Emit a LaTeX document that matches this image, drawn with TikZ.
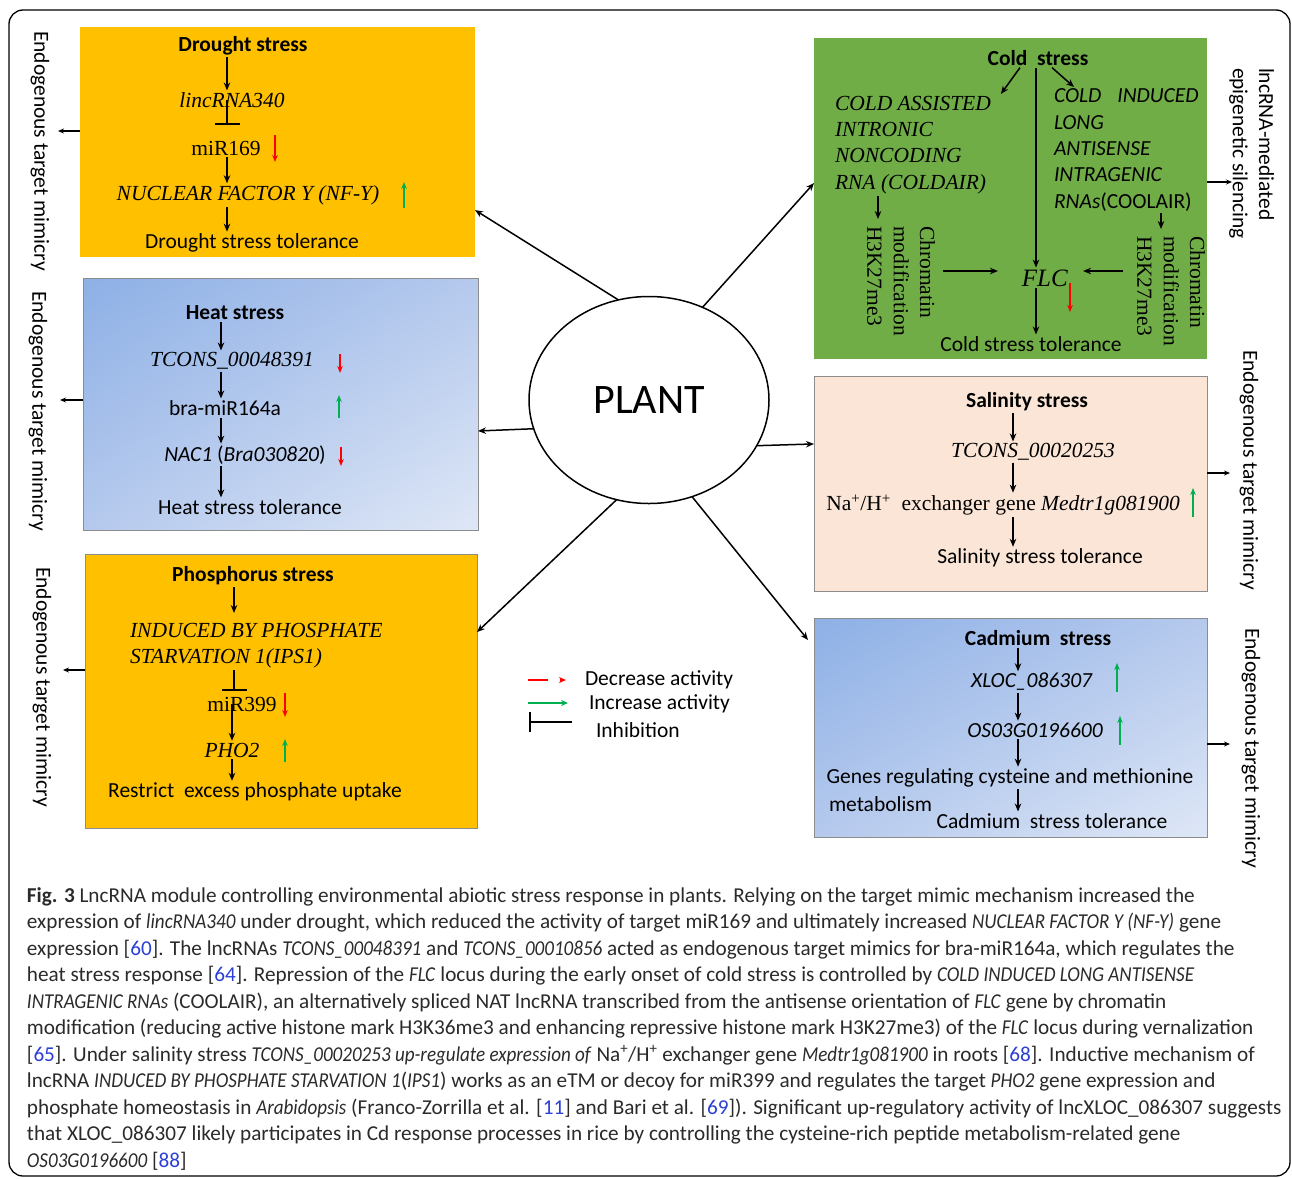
\documentclass[tikz,border=0pt]{standalone}
\usepackage{fontspec}
\setmainfont{Liberation Serif}
\setsansfont{Carlito}
\newfontfamily\capfont{Carlito}[ItalicFeatures={FakeStretch=0.9}]
\usetikzlibrary{calc,shapes.geometric,arrows.meta,shadings}

\definecolor{droughtyellow}{HTML}{FFC000}
\definecolor{coldgreen}{HTML}{70AD47}
\definecolor{saltpeach}{HTML}{FBE5D6}
\definecolor{blueA}{HTML}{8DB0E6}
\definecolor{blueM}{HTML}{B5C9ED}
\definecolor{blueB}{HTML}{DEE7F6}
\definecolor{upgreen}{HTML}{00B050}
\definecolor{citeblue}{HTML}{2C3FD4}
\definecolor{boxline}{HTML}{8C8C8C}
\definecolor{captxtcol}{HTML}{2A2A2A}

\newcommand{\bx}{\fontsize{21.5}{26.3}\selectfont}
\newcommand{\capsz}{\fontsize{21.2}{26.5}\selectfont}
\newcommand{\refno}[1]{\textcolor{citeblue}{#1}}
\newcommand{\dnarr}[3]{\draw[chg,red] (#1,#2) -- (#1,#3);}
\newcommand{\uparr}[3]{\draw[chg,upgreen] (#1,#2) -- (#1,#3);}

\begin{document}
\begin{tikzpicture}[x=1pt,y=-1pt,
    every node/.style={inner sep=2pt,outer sep=0pt},
    txt/.style={font=\sffamily\bx},
    hd/.style={font=\sffamily\bfseries\bx},
    ser/.style={font=\rmfamily\bx},
    arr/.style={-{Stealth[length=8pt,width=6.5pt]},line width=1.5pt},
    sarr/.style={-{Stealth[length=6pt,width=5pt]},line width=1.3pt},
    inh/.style={-{Bar[width=25pt]},line width=1.5pt},
    chg/.style={-{Stealth[length=7pt,width=5.5pt]},line width=2pt},
    side/.style={font=\sffamily\bx,rotate=-90},
    captxt/.style={font=\capfont\capsz,text=captxtcol,anchor=base west}]
  \useasboundingbox (0,0) rectangle (1292,1178);
  \draw[line width=1.3pt,rounded corners=14pt] (9,10) rectangle (1290,1176);

  % stress boxes
  \node[fill=droughtyellow,minimum width=395pt,minimum height=230pt,anchor=north west] (drt) at (80,27) {};
  \node[draw=boxline,shade,upper left=blueA,upper right=blueM,lower left=blueM,lower right=blueB,
        minimum width=395pt,minimum height=252pt,anchor=north west] (heat) at (83,278) {};
  \node[draw=boxline,fill=droughtyellow,minimum width=392pt,minimum height=274pt,anchor=north west] (phos) at (85,554) {};
  \node[fill=coldgreen,minimum width=393pt,minimum height=321pt,anchor=north west] (cold) at (814,38) {};
  \node[draw=boxline,fill=saltpeach,minimum width=393pt,minimum height=215pt,anchor=north west] (salt) at (814,376) {};
  \node[draw=boxline,shade,upper left=blueA,upper right=blueM,lower left=blueM,lower right=blueB,
        minimum width=393pt,minimum height=219pt,anchor=north west] (cad) at (814,618) {};

  % plant
  \node[draw,ellipse,line width=1.5pt,minimum width=240pt,minimum height=207pt,
        font=\sffamily\fontsize{42}{48}\selectfont] (plant) at (649,400) {PLANT};
  \draw[arr] (plant.107.6) -- ($(drt.south east)!0.204!(drt.north east)$);
  \draw[arr] (plant.194.5) -- ($(heat.south east)!0.393!(heat.north east)$);
  \draw[arr] (plant.252.3) -- ($(phos.south east)!0.715!(phos.north east)$);
  \draw[arr] (plant.60.8) -- ($(cold.south west)!0.548!(cold.north west)$);
  \draw[arr] (plant.337.8) -- ($(salt.south west)!0.684!(salt.north west)$);
  \draw[arr] (plant.294.2) -- ($(cad.north west)+(-6,22)$);

  % side labels
  \node[side] (mim1) at (40,151) {Endogenous target mimicry};
  \node[side] (mim2) at (38,411) {Endogenous target mimicry};
  \node[side] (mim3) at (42,687) {Endogenous target mimicry};
  \node[side] (mim4) at (1249,470) {Endogenous target mimicry};
  \node[side] (mim5) at (1251,748) {Endogenous target mimicry};
  \node[side,align=left,anchor=north west] (epi) at (1276,66) {lncRNA-mediated\\epigenetic silencing};
  \coordinate (t1) at (58,131);
  \coordinate (t2) at (60,400);
  \coordinate (t3) at (63,670);
  \coordinate (t4) at (1232,182);
  \coordinate (t5) at (1230,473);
  \coordinate (t6) at (1230,744);
  \draw[sarr] (drt.west |- t1) -- (t1);
  \draw[sarr] (heat.west |- t2) -- (t2);
  \draw[sarr] (phos.west |- t3) -- (t3);
  \draw[sarr] (cold.east |- t4) -- (t4);
  \draw[sarr] (salt.east |- t5) -- (t5);
  \draw[sarr] (cad.east |- t6) -- (t6);

  % drought
  \coordinate (dx) at (227,0);
  \node[hd] (d0) at (243,46) {Drought stress};
  \node[ser] (d1) at (232,100) {\textit{lincRNA340}};
  \node[ser] (d2) at (226,148) {miR169};
  \node[ser] (d3) at (248,195) {\textit{NUCLEAR FACTOR Y (NF-Y)}};
  \node[txt] (d4) at (252,243) {Drought stress tolerance};
  \draw[arr] (d0.south -| dx) -- (d1.north -| dx);
  \draw[inh,shorten >=14pt] (d1.center -| dx) -- (d2.north -| dx);
  \draw[arr] (d2.south -| dx) -- (d3.north -| dx);
  \draw[arr] (d3.south -| dx) -- (d4.north -| dx);
  \dnarr{275}{135}{162}
  \uparr{404}{208}{182}

  % heat
  \coordinate (hx) at (221,0);
  \node[hd] (h0) at (235,313) {Heat stress};
  \node[ser] (h1) at (232,361) {\textit{TCONS\_00048391}};
  \node[txt] (h2) at (225,408) {bra-miR164a};
  \node[txt] (h3) at (245,455) {\textit{NAC1} (\textit{Bra030820})};
  \node[txt] (h4) at (250,507) {Heat stress tolerance};
  \draw[arr] (h0.south -| hx) -- (h1.north -| hx);
  \draw[arr] (h1.south -| hx) -- (h2.north -| hx);
  \draw[arr] (h2.south -| hx) -- (h3.north -| hx);
  \draw[arr] (h3.south -| hx) -- (h4.north -| hx);
  \dnarr{340}{354}{373}
  \uparr{339}{418}{395}
  \dnarr{341}{447}{466}

  % phosphorus
  \coordinate (px) at (234,0);
  \coordinate (px2) at (232,0);
  \node[hd] (p0) at (253,576) {Phosphorus stress};
  \node[ser,align=left,anchor=north west] (p1) at (128,621) {\textit{INDUCED BY PHOSPHATE}\\\textit{STARVATION 1(IPS1)}};
  \node[ser] (p2) at (242,704) {miR399};
  \node[ser] (p3) at (232,750) {\textit{PHO2}};
  \node[txt] (p4) at (255,792) {Restrict\ \ excess phosphate uptake};
  \draw[arr,shorten >=8pt] (p0.south -| px) -- (p1.north -| px);
  \draw[inh,shorten >=4pt] (p1.south -| px) -- (p2.north -| px);
  \draw[arr] (p2.center -| px2) -- (p3.north -| px2);
  \draw[arr] (p3.south -| px2) -- (p4.north -| px2);
  \dnarr{285}{693}{717}
  \uparr{285}{762}{739}

  % cold
  \coordinate (cx) at (1036,0);
  \coordinate (cy) at (0,271);
  \coordinate (lx) at (878,0);
  \coordinate (rx) at (1161,0);
  \node[hd] (c0) at (1038,58) {Cold\ \ stress};
  \node[ser,align=left,anchor=north west] (cla) at (833,94)
    {\textit{COLD ASSISTED}\\\textit{INTRONIC}\\\textit{NONCODING}\\\textit{RNA (COLDAIR)}};
  \node[txt,align=left,anchor=north west] (clb) at (1052,87)
    {\textit{COLD\hspace{16pt}INDUCED}\\\textit{LONG}\\\textit{ANTISENSE}\\\textit{INTRAGENIC}\\\textit{RNAs}(COOLAIR)};
  \node[ser,rotate=-90,align=left,anchor=north west] (chl) at (937,224) {Chromatin\\modification\\H3K27me3};
  \node[ser,rotate=-90,align=left,anchor=north west] (chr) at (1207,234) {Chromatin\\modification\\H3K27me3};
  \node[font=\rmfamily\fontsize{25}{30}\selectfont] (flc) at (1045,278) {\textit{FLC}};
  \node[txt] (ctol) at (1031,344) {Cold stress tolerance};
  \draw[arr] ([xshift=-18pt]c0.south) -- ([xshift=8pt]cla.north east);
  \draw[arr] ([xshift=14pt]c0.south) -- ([xshift=22pt]clb.north west);
  \draw[arr] (c0.south -| cx) -- (flc.north -| cx);
  \draw[arr,shorten >=5pt] (cla.south -| lx) -- (chl.west -| lx);
  \draw[arr,shorten >=5pt] (clb.south -| rx) -- (chr.west -| rx);
  \draw[arr,shorten <=6pt,shorten >=22pt] (chl.north |- cy) -- (flc.west |- cy);
  \draw[arr,shorten <=12pt,shorten >=13pt] (chr.south |- cy) -- (flc.east |- cy);
  \draw[arr] (flc.south -| cx) -- (ctol.north -| cx);
  \dnarr{1070}{283}{312}

  % salinity
  \coordinate (sx) at (1013,0);
  \node[hd] (s0) at (1027,402) {Salinity stress};
  \node[ser] (s1) at (1033,452) {\textit{TCONS\_00020253}};
  \node[ser] (s2) at (1003,505) {Na\textsuperscript{+}/H\textsuperscript{+}\ \ exchanger gene \textit{Medtr1g081900}};
  \node[txt] (s3) at (1040,558) {Salinity stress tolerance};
  \draw[arr] (s0.south -| sx) -- (s1.north -| sx);
  \draw[arr] (s1.south -| sx) -- (s2.north -| sx);
  \draw[arr] (s2.south -| sx) -- (s3.north -| sx);
  \uparr{1193}{517}{488}

  % cadmium
  \coordinate (mx) at (1018,0);
  \node[hd] (m0) at (1038,638) {Cadmium\ \ stress};
  \node[txt] (m1) at (1032,682) {\textit{XLOC\_086307}};
  \node[txt] (m2) at (1035,730) {\textit{OS03G0196600}};
  \node[txt] (m3) at (1010,778) {Genes regulating cysteine and methionine};
  \node[txt,anchor=west] (m4) at (827,804) {metabolism};
  \node[txt] (m5) at (1052,821) {Cadmium\ \ stress tolerance};
  \draw[arr] (m0.south -| mx) -- (m1.north -| mx);
  \draw[arr] (m1.south -| mx) -- (m2.north -| mx);
  \draw[arr] (m2.south -| mx) -- (m3.north -| mx);
  \draw[arr] (m3.south -| mx) -- (m5.north -| mx);
  \uparr{1117}{692}{663}
  \uparr{1120}{745}{716}

  % legend
  \node[txt,anchor=west] (leg1) at (583,680) {Decrease activity};
  \node[txt,anchor=west] (leg2) at (587,704) {Increase activity};
  \node[txt,anchor=west] (leg3) at (594,730) {Inhibition};
  \draw[red,line width=2pt,-{Stealth[length=7pt,width=6pt]},dash pattern=on 20pt off 12pt]
    ($(leg1.west)+(-55,0)$) -- ($(leg1.west)+(-17,0)$);
  \draw[upgreen,line width=2pt,-{Stealth[length=7pt,width=6pt]}]
    ($(leg2.west)+(-59,-1)$) -- ($(leg2.west)+(-19,-1)$);
  \draw[line width=1.8pt,{Bar[width=20pt]}-] ($(leg3.west)+(-65,-8)$) -- ($(leg3.west)+(-22,-8)$);

  % caption
  \node[captxt] (cap1) at (25,902) {\textbf{Fig. 3} LncRNA module controlling environmental abiotic stress response in plants. Relying on the target mimic mechanism increased the};
  \node[captxt] (cap2) at (25,928.5) {expression of \textit{lincRNA340} under drought, which reduced the activity of target miR169 and ultimately increased \textit{NUCLEAR FACTOR Y (NF-Y)} gene};
  \node[captxt] (cap3) at (25,955) {expression [\refno{60}]. The lncRNAs \textit{TCONS\_00048391} and \textit{TCONS\_00010856} acted as endogenous target mimics for bra-miR164a, which regulates the};
  \node[captxt] (cap4) at (25,981.5) {heat stress response [\refno{64}]. Repression of the \textit{FLC} locus during the early onset of cold stress is controlled by \textit{COLD INDUCED LONG ANTISENSE}};
  \node[captxt] (cap5) at (25,1008) {\textit{INTRAGENIC RNAs} (COOLAIR), an alternatively spliced NAT lncRNA transcribed from the antisense orientation of \textit{FLC} gene by chromatin};
  \node[captxt] (cap6) at (25,1034.5) {modification (reducing active histone mark H3K36me3 and enhancing repressive histone mark H3K27me3) of the \textit{FLC} locus during vernalization};
  \node[captxt] (cap7) at (25,1061) {[\refno{65}]. Under salinity stress \textit{TCONS\_00020253 up-regulate expression of} Na\textsuperscript{+}/H\textsuperscript{+} exchanger gene \textit{Medtr1g081900} in roots [\refno{68}]. Inductive mechanism of};
  \node[captxt] (cap8) at (25,1087.5) {lncRNA \textit{INDUCED BY PHOSPHATE STARVATION 1}(\textit{IPS1}) works as an eTM or decoy for miR399 and regulates the target \textit{PHO2} gene expression and};
  \node[captxt] (cap9) at (25,1114) {phosphate homeostasis in \textit{Arabidopsis} (Franco-Zorrilla et al. [\refno{11}] and Bari et al. [\refno{69}]). Significant up-regulatory activity of lncXLOC\_086307 suggests};
  \node[captxt] (cap10) at (25,1140.5) {that XLOC\_086307 likely participates in Cd response processes in rice by controlling the cysteine-rich peptide metabolism-related gene};
  \node[captxt] (cap11) at (25,1167) {\textit{OS03G0196600} [\refno{88}]};
\end{tikzpicture}
\end{document}
